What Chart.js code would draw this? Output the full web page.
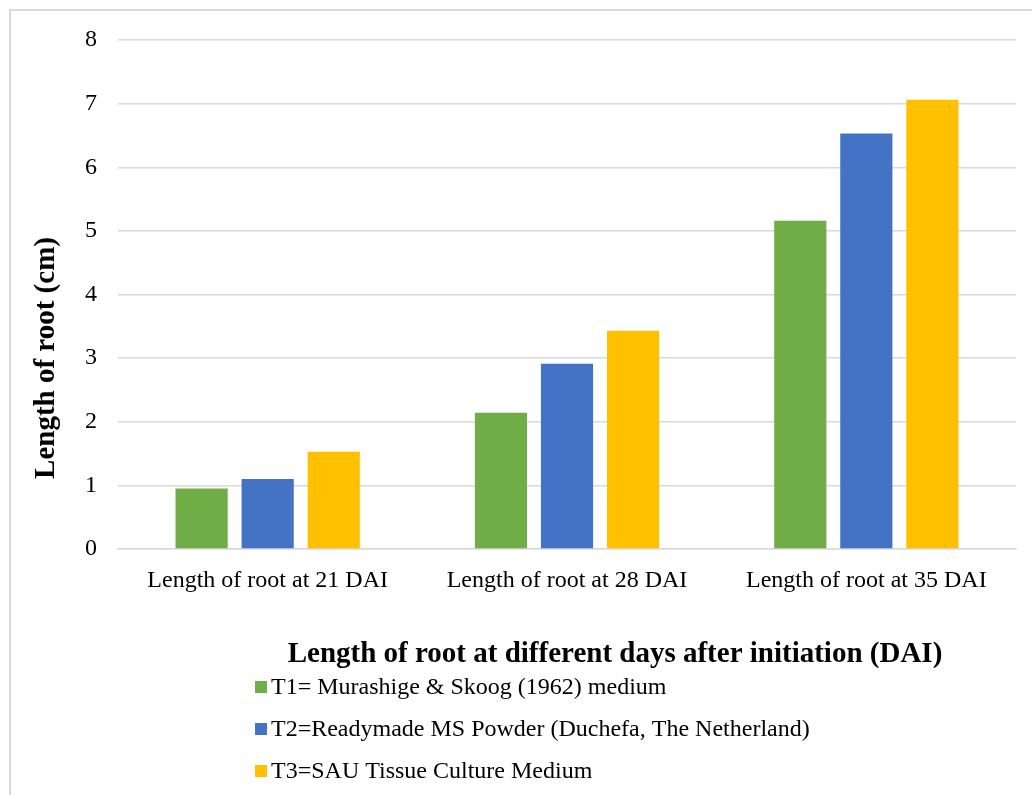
<!DOCTYPE html>
<html>
<head>
<meta charset="utf-8">
<script src="https://cdn.jsdelivr.net/npm/chart.js@4/dist/chart.umd.min.js"></script>
<style>
  html, body { margin: 0; padding: 0; background: #ffffff; }
  #wrap { position: relative; width: 1032px; height: 795px; }
</style>
</head>
<body>
<div id="wrap"><canvas id="rootChart" width="1032" height="795"></canvas></div>
<script>
// Root length (cm) at different days after initiation
const categories = ['Length of root at 21 DAI', 'Length of root at 28 DAI', 'Length of root at 35 DAI'];
const seriesNames = [
  'T1= Murashige & Skoog (1962) medium',
  'T2=Readymade MS Powder (Duchefa, The Netherland)',
  'T3=SAU Tissue Culture Medium'
];
const t1Values = [0.95, 2.14, 5.16];
const t2Values = [1.10, 2.91, 6.53];
const t3Values = [1.53, 3.43, 7.06];
const yTicks = [0, 1, 2, 3, 4, 5, 6, 7, 8];

const colors = ['#70AD47', '#4472C4', '#FFC000'];
const serif = '"Liberation Serif", "Times New Roman", serif';
const xTitle = 'Length of root at different days after initiation (DAI)';
const yTitle = 'Length of root (cm)';

// Outer frame, axis titles and the stacked legend drawn on the canvas
const decorations = {
  id: 'decorations',
  beforeDraw(chart) {
    const ctx = chart.ctx;
    ctx.save();
    ctx.fillStyle = '#ffffff';
    ctx.fillRect(0, 0, chart.width, chart.height);
    ctx.strokeStyle = '#d9d9d9';
    ctx.lineWidth = 2;
    ctx.strokeRect(10, 10, chart.width + 20, chart.height + 20);
    ctx.restore();
  },
  afterDraw(chart) {
    const ctx = chart.ctx;
    ctx.save();
    ctx.fillStyle = '#000000';
    ctx.textAlign = 'center';
    ctx.textBaseline = 'middle';
    ctx.font = 'bold 29px ' + serif;
    ctx.fillText(xTitle, 615, 655);

    ctx.save();
    ctx.translate(47, 358);
    ctx.rotate(-Math.PI / 2);
    ctx.fillText(yTitle, 0, 0);
    ctx.restore();

    ctx.textAlign = 'left';
    ctx.font = '24px ' + serif;
    const rows = [687, 729, 771];
    chart.data.datasets.forEach((ds, i) => {
      ctx.fillStyle = ds.backgroundColor;
      ctx.fillRect(255, rows[i] - 6, 12, 12);
      ctx.fillStyle = '#000000';
      ctx.fillText(ds.label, 271, rows[i] + 1);
    });
    ctx.restore();
  }
};

new Chart(document.getElementById('rootChart'), {
  type: 'bar',
  data: {
    labels: categories,
    datasets: [
      { label: seriesNames[0], data: t1Values, backgroundColor: colors[0] },
      { label: seriesNames[1], data: t2Values, backgroundColor: colors[1] },
      { label: seriesNames[2], data: t3Values, backgroundColor: colors[2] }
    ]
  },
  options: {
    responsive: false,
    animation: false,
    devicePixelRatio: 1,
    categoryPercentage: 0.662,
    barPercentage: 0.79,
    layout: { padding: { left: 0, right: 16, top: 40, bottom: 0 } },
    plugins: {
      legend: { display: false },
      tooltip: { enabled: false }
    },
    scales: {
      x: {
        grid: { display: false, drawTicks: false },
        border: { display: true, color: '#d9d9d9', width: 1.5 },
        ticks: {
          color: '#000000',
          font: { family: serif, size: 24 },
          padding: 17,
          maxRotation: 0,
          autoSkip: false
        },
        afterFit(scale) { scale.height = 795 - 549; }
      },
      y: {
        min: 0,
        max: 8,
        afterBuildTicks(scale) { scale.ticks = yTicks.map(v => ({ value: v })); },
        grid: { color: '#d9d9d9', lineWidth: 1.5, drawTicks: false },
        border: { display: false },
        ticks: {
          color: '#000000',
          font: { family: serif, size: 24 },
          padding: 21
        },
        afterFit(scale) { scale.width = 118; }
      }
    }
  },
  plugins: [decorations]
});
</script>
</body>
</html>
